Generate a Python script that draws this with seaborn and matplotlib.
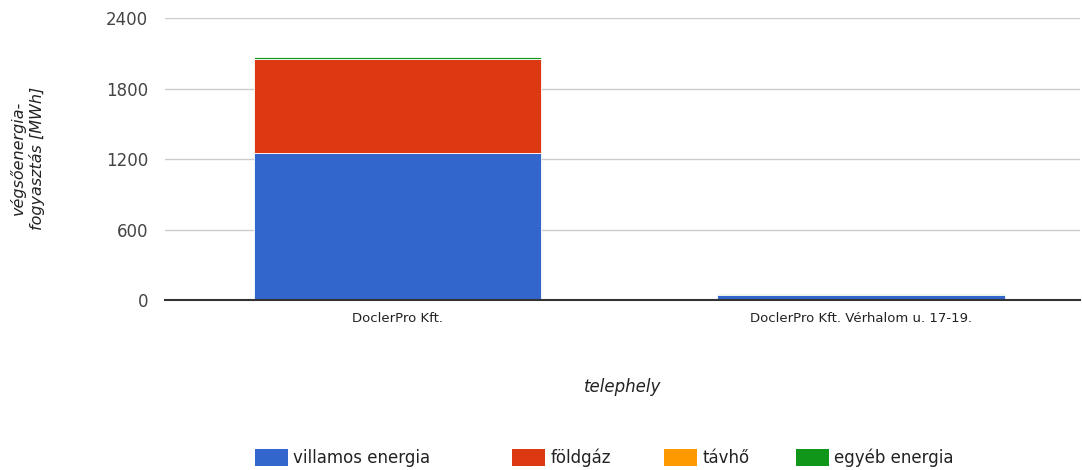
import matplotlib
matplotlib.use("Agg")
import matplotlib.pyplot as plt
import seaborn as sns
import pandas as pd
import numpy as np
from matplotlib.patches import Patch

sites = ["DoclerPro Kft.", "DoclerPro Kft. Vérhalom u. 17-19."]
series = ["villamos energia", "földgáz", "távhő", "egyéb energia"]
villamos = [1250, 40]
foldgaz = [805, 0]
tavho = [0, 0]
egyeb = [15, 8]
colors = ["#3366cc", "#dc3912", "#ff9900", "#109618"]
yticks = [0, 600, 1200, 1800, 2400]

sns.set_theme(style="white")
plt.rcParams['font.family'] = ['DejaVu Sans']

fig = plt.figure(figsize=(10.82, 4.70), dpi=100)
ax = fig.add_axes([165/1082, 1 - 300/470, (1080-165)/1082, (300-18.3)/470])

values = [villamos, foldgaz, tavho, egyeb]
bottom = np.zeros(len(sites))
for name, vals, col in zip(series, values, colors):
    df = pd.DataFrame({"site": sites, "val": vals})
    sns.barplot(data=df, x="site", y="val", color=col, width=0.62,
                bottom=bottom, ax=ax, edgecolor="white", linewidth=0.6,
                saturation=1)
    bottom = bottom + np.array(vals)

ax.set_ylim(0, 2400)
ax.set_xlim(-0.503, 1.473)
ax.set_yticks(yticks)
ax.set_yticklabels([str(t) for t in yticks], fontsize=12, color="#444444")
ax.tick_params(axis="y", length=0, pad=12)
ax.tick_params(axis="x", length=0, pad=9, labelsize=9.5, labelcolor="#222222")
ax.yaxis.grid(True, color="#cccccc", linewidth=1)
ax.set_axisbelow(True)
for s in ["top", "right", "left"]:
    ax.spines[s].set_visible(False)
ax.spines["bottom"].set_color("#333333")
ax.spines["bottom"].set_linewidth(1.5)
ax.spines["bottom"].set_zorder(5)
ax.set_xlabel("telephely", fontsize=12, style="italic", color="#222222", labelpad=38)
ax.set_ylabel("")
fig.text(27/1082, 1 - 158/470, "végsőenergia-\nfogyasztás [MWh]", rotation=90,
         ha="center", va="center", fontsize=11.5, style="italic", color="#222222",
         linespacing=1.25)

legend_x = [255, 512, 664, 796]
for name, col, lx in zip(series, colors, legend_x):
    fig.legend([Patch(facecolor=col, edgecolor="none")], [name], loc="center left",
               bbox_to_anchor=(lx/1082, 1 - 458/470), frameon=False, fontsize=12,
               handlelength=2.0, handleheight=1.15, handletextpad=0.3,
               borderpad=0, borderaxespad=0, labelcolor="#222222")

fig.savefig("out.png", dpi=100)
